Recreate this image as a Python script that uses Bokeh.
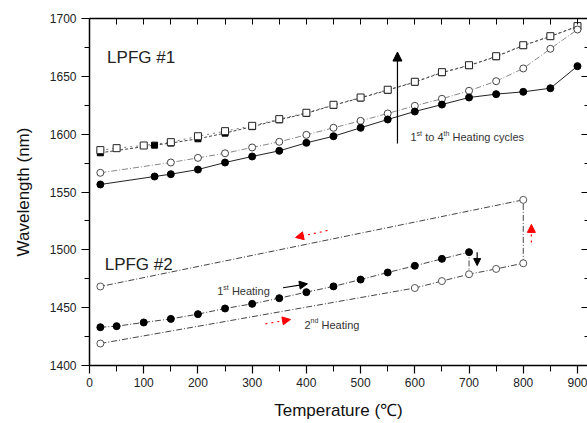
from bokeh.plotting import figure
from bokeh.models import (LinearAxis, Range1d, Label, Arrow, NormalHead, FixedTicker)
from bokeh.embed import file_html
from bokeh.resources import INLINE

# ---------------- data ----------------
# LPFG #1 : four heating cycles
c4_temp = [20, 50, 100, 150, 200, 250, 300, 350, 400, 450, 500, 550, 600, 650, 700, 750, 800, 850, 900]
c4_wl = [1586.2, 1587.9, 1590.2, 1593.1, 1598.2, 1602.6, 1607.2, 1613.0, 1618.5, 1625.4,
         1631.7, 1638.4, 1645.3, 1653.6, 1659.6, 1667.4, 1676.9, 1684.7, 1693.4]

c3_temp = [20, 120, 150, 200, 250, 300, 350, 400, 450, 500, 550, 600, 650, 700, 750, 800, 850, 900]
c3_wl = [1583.9, 1590.5, 1592.3, 1596.0, 1600.9, 1606.5, 1612.4, 1618.0, 1625.0, 1631.3,
         1638.0, 1645.0, 1653.2, 1659.3, 1667.0, 1676.6, 1684.5, 1693.2]

c2_temp = [20, 150, 200, 250, 300, 350, 400, 450, 500, 550, 600, 650, 700, 750, 800, 850, 900]
c2_wl = [1566.6, 1575.5, 1579.5, 1583.5, 1588.5, 1593.4, 1599.4, 1605.5, 1611.5, 1617.9,
         1624.5, 1630.6, 1637.5, 1645.8, 1656.8, 1673.8, 1690.5]

c1_temp = [20, 120, 150, 200, 250, 300, 350, 400, 450, 500, 550, 600, 650, 700, 750, 800, 850, 900]
c1_wl = [1556.5, 1563.4, 1565.4, 1569.4, 1575.5, 1580.7, 1585.6, 1592.5, 1598.2, 1605.5,
         1612.7, 1619.6, 1625.6, 1631.7, 1634.6, 1636.6, 1639.7, 1658.8]

# LPFG #2 : 1st heating (to 700 C) and 2nd heating (to 800 C, then cooling back)
h1_temp = [20, 50, 100, 150, 200, 250, 300, 350, 400, 450, 500, 550, 600, 650, 700]
h1_wl = [1433.1, 1434.0, 1437.2, 1440.3, 1444.4, 1449.3, 1453.3, 1458.2, 1463.4, 1468.4,
         1474.3, 1480.4, 1486.2, 1492.2, 1498.0]

h2_temp = [20, 600, 650, 700, 750, 800, 800, 20]
h2_wl = [1419.0, 1467.0, 1473.0, 1478.9, 1483.5, 1488.4, 1543.2, 1468.3]

x_ticks = [0, 100, 200, 300, 400, 500, 600, 700, 800, 900]
y_ticks = [1400, 1450, 1500, 1550, 1600, 1650, 1700]

FONT = "Liberation Sans"

# ---------------- figure ----------------
p = figure(width=587, height=423, output_backend="svg", toolbar_location=None,
           x_range=Range1d(0, 918.5), y_range=Range1d(1400, 1700),
           min_border_left=89, min_border_right=0, min_border_top=18, min_border_bottom=58)
p.outline_line_color = None
p.xgrid.visible = False
p.ygrid.visible = False
p.background_fill_color = "white"
p.border_fill_color = "white"

x_minor = [50 + 100 * i for i in range(9)]
y_minor = [1425 + 50 * i for i in range(6)]

# bottom axis
xa = p.xaxis[0]
xa.ticker = FixedTicker(ticks=x_ticks, minor_ticks=x_minor)
xa.axis_label = "Temperature (\u2103)"
xa.axis_label_text_font = FONT
xa.axis_label_text_font_size = "17px"
xa.axis_label_text_font_style = "normal"
xa.axis_label_text_color = "#111"
xa.axis_label_standoff = 11
xa.major_label_text_font = FONT
xa.major_label_text_font_size = "12px"
xa.major_label_text_color = "#222"
xa.major_label_standoff = 4
xa.major_tick_out = 8
xa.major_tick_in = 0
xa.minor_tick_out = 6
xa.minor_tick_in = 0
xa.axis_line_width = 1.5
xa.major_tick_line_width = 1.2

# left axis
ya = p.yaxis[0]
ya.ticker = FixedTicker(ticks=y_ticks, minor_ticks=y_minor)
ya.axis_label = "Wavelength (nm)"
ya.axis_label_text_font = FONT
ya.axis_label_text_font_size = "17px"
ya.axis_label_text_font_style = "normal"
ya.axis_label_text_color = "#111"
ya.axis_label_standoff = 14
ya.major_label_text_font = FONT
ya.major_label_text_font_size = "12px"
ya.major_label_text_color = "#222"
ya.major_label_standoff = 5
ya.major_tick_out = 8
ya.major_tick_in = 0
ya.minor_tick_out = 5
ya.minor_tick_in = 0
ya.axis_line_width = 1.5
ya.major_tick_line_width = 1.2

# top axis (ticks inside, no labels)
ta = LinearAxis(ticker=FixedTicker(ticks=x_ticks, minor_ticks=x_minor),
                major_label_overrides={t: "" for t in x_ticks},
                major_tick_in=6, major_tick_out=0, minor_tick_in=6, minor_tick_out=0,
                axis_line_width=1.5, major_label_standoff=0)
p.add_layout(ta, "above")

# right axis (ticks inside, its line is cut off in the reference)
ra = LinearAxis(ticker=FixedTicker(ticks=y_ticks, minor_ticks=y_minor),
                major_label_overrides={t: "" for t in y_ticks},
                major_tick_in=6, major_tick_out=0, minor_tick_in=3, minor_tick_out=0,
                axis_line_color=None, major_label_standoff=0)
p.add_layout(ra, "right")

# ---------------- LPFG #1 ----------------
p.line(c4_temp, c4_wl, line_color="#777", line_width=1, line_dash="dotted")
p.line(c3_temp, c3_wl, line_color="#444", line_width=1, line_dash="3 2")
p.line(c2_temp, c2_wl, line_color="#888", line_width=1, line_dash="6 2 1 2")
p.line(c1_temp, c1_wl, line_color="#222", line_width=1)

p.scatter(c3_temp, c3_wl, marker="square", size=6, fill_color="black", line_color="black")
p.scatter(c4_temp, c4_wl, marker="square", size=7, fill_color="white", line_color="#222", line_width=1)
p.scatter(c2_temp, c2_wl, marker="circle", size=7, fill_color="white", line_color="#444", line_width=1)
p.scatter(c1_temp, c1_wl, marker="circle", size=7, fill_color="black", line_color="black")

# ---------------- LPFG #2 ----------------
# first heating path, dropping vertically onto the 2nd-heating curve at its end temperature
drop_idx = h2_temp.index(h1_temp[-1])
p.line(h1_temp + [h1_temp[-1]], h1_wl + [h2_wl[drop_idx]], line_color="#444", line_width=1,
       line_dash="6 2 1 2")
p.line(h2_temp, h2_wl, line_color="#444", line_width=1, line_dash="6 2 1 2")
p.scatter(h1_temp, h1_wl, marker="circle", size=7, fill_color="black", line_color="black")
p.scatter(h2_temp, h2_wl, marker="circle", size=7, fill_color="white", line_color="#555", line_width=1)

# ---------------- annotations ----------------
def label(x, y, text, size, dx=0, dy=0, color="#333"):
    p.add_layout(Label(x=x, y=y, x_offset=dx, y_offset=dy, text=text,
                       text_font=FONT, text_font_size=f"{size}px", text_color=color,
                       text_baseline="alphabetic", text_align="left"))

label(32.5, 1666.3, "LPFG #1", 17, color="#222")
label(28, 1487.3, "LPFG #2", 17, color="#222")

# "1st to 4th Heating cycles"
label(592, 1597.5, "1", 11)
label(592, 1597.5, "st", 7, dx=6.1, dy=4)
label(592, 1597.5, "to 4", 11, dx=14.7)
label(592, 1597.5, "th", 7, dx=33.0, dy=4)
label(592, 1597.5, "Heating cycles", 11, dx=42.0)

# "1st Heating"
label(235.5, 1464.0, "1", 11)
label(235.5, 1464.0, "st", 7, dx=6.1, dy=4)
label(235.5, 1464.0, "Heating", 11, dx=14.7)

# "2nd Heating"
label(396.5, 1435.4, "2", 11)
label(396.5, 1435.4, "nd", 7, dx=6.1, dy=4)
label(396.5, 1435.4, "Heating", 11, dx=17.0)

# black arrows
p.add_layout(Arrow(x_start=568, y_start=1592, x_end=568, y_end=1671,
                   line_color="black", line_width=1.2,
                   end=NormalHead(size=9, fill_color="black", line_color="black")))
p.add_layout(Arrow(x_start=357, y_start=1467.2, x_end=402, y_end=1470.6,
                   line_color="black", line_width=1.2,
                   end=NormalHead(size=8, fill_color="black", line_color="black")))
p.add_layout(Arrow(x_start=715, y_start=1498, x_end=715, y_end=1486.4,
                   line_color="black", line_width=1.2,
                   end=NormalHead(size=7, fill_color="black", line_color="black")))

# red dotted arrows
for xs, ys, xe, ye in [(324.6, 1436.0, 370.7, 1439.8),
                       (439.0, 1516.7, 380.0, 1510.7),
                       (815.0, 1506.3, 815.0, 1522.0)]:
    p.add_layout(Arrow(x_start=xs, y_start=ys, x_end=xe, y_end=ye,
                       line_color="red", line_width=1.2, line_dash="dotted",
                       end=NormalHead(size=8, fill_color="red", line_color="red")))

open("out.html", "w").write(file_html(p, INLINE))
